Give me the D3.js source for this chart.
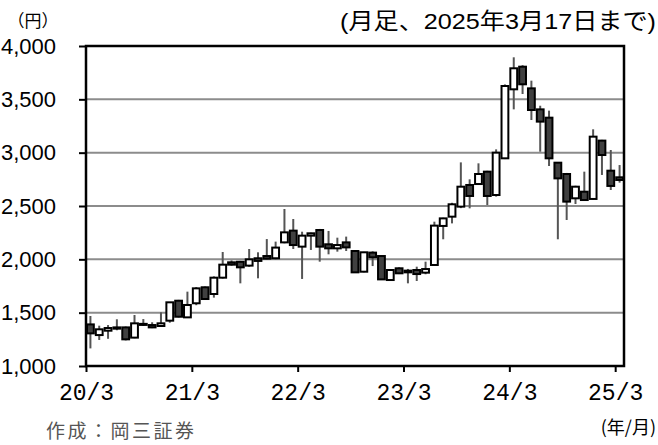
<!DOCTYPE html>
<html><head><meta charset="utf-8">
<script src="https://cdn.jsdelivr.net/npm/d3@7/dist/d3.min.js"></script>
<style>body{margin:0;background:#fff}svg{display:block}</style>
</head><body>
<script>
const months = [
 "2020/03","2020/04","2020/05","2020/06","2020/07","2020/08","2020/09","2020/10","2020/11","2020/12",
 "2021/01","2021/02","2021/03","2021/04","2021/05","2021/06","2021/07","2021/08","2021/09","2021/10","2021/11","2021/12",
 "2022/01","2022/02","2022/03","2022/04","2022/05","2022/06","2022/07","2022/08","2022/09","2022/10","2022/11","2022/12",
 "2023/01","2023/02","2023/03","2023/04","2023/05","2023/06","2023/07","2023/08","2023/09","2023/10","2023/11","2023/12",
 "2024/01","2024/02","2024/03","2024/04","2024/05","2024/06","2024/07","2024/08","2024/09","2024/10","2024/11","2024/12",
 "2025/01","2025/02","2025/03"];
const openP  = [1390,1290,1331,1362,1362,1266,1385,1384,1375,1425,1612,1456,1588,1738,1675,1828,1972,1977,1941,2010,2031,2010,
                2159,2269,2119,2222,2275,2141,2103,2159,2078,1884,2063,2031,1806,1916,1894,1900,1875,1947,2313,2400,2494,2697,2706,2822,
                2603,2947,3594,3806,3603,3406,3328,2906,2800,2572,2634,2566,3113,2831,2769];
const highP  = [1469,1378,1384,1438,1370,1478,1440,1410,1503,1600,1620,1697,1740,1745,1840,2069,1990,1985,2097,2066,2190,2166,
                2472,2378,2259,2250,2285,2266,2203,2213,2085,2070,2075,2035,1900,1925,1910,1931,1978,2353,2390,2530,2909,2750,2900,2830,
                3031,3640,3894,3820,3675,3440,3394,2910,2810,2690,2822,3219,3120,3025,2884];
const lowP   = [1165,1244,1255,1335,1240,1260,1375,1355,1370,1406,1455,1450,1570,1620,1641,1820,1940,1775,1930,1822,2000,2000,
                2150,2097,1816,2088,1978,2047,2072,2078,1878,1878,1937,1806,1800,1862,1775,1797,1860,1940,2188,2337,2480,2478,2700,2509,
                2588,2940,3406,3550,3306,3009,2875,2188,2369,2519,2550,2560,2791,2650,2719];
const closeP = [1306,1344,1356,1350,1250,1400,1395,1362,1400,1597,1462,1572,1728,1628,1828,1950,1950,1925,2000,1985,2006,2110,
                2253,2134,2222,2244,2119,2103,2134,2112,1878,2066,2019,1812,1900,1869,1878,1862,1909,2316,2384,2516,2681,2594,2800,2594,
                3000,3625,3791,3641,3400,3291,2947,2759,2541,2681,2556,3150,2978,2688,2744];
const xTickIdx = [0,12,24,36,48,60];
const xTickLabels = ["20/3","21/3","22/3","23/3","24/3","25/3"];
const yTicks = [1000,1500,2000,2500,3000,3500,4000];

const W=658,H=445;
const svg=d3.select("body").append("svg").attr("width",W).attr("height",H);
const x=d3.scaleLinear().domain([0,months.length]).range([86,624]);
const y=d3.scaleLinear().domain([1000,4000]).range([366,46]);
const bw = x(1)-x(0);

// gridlines
svg.append("g").selectAll("line").data(yTicks.filter(v=>v>1000&&v<4000)).join("line")
  .attr("x1",x(0)).attr("x2",x(months.length)).attr("y1",d=>y(d)).attr("y2",d=>y(d))
  .attr("stroke","#8c8c8c").attr("stroke-width",2);

// axes
const yAxis = svg.append("g").attr("transform",`translate(${x(0)},0)`)
  .call(d3.axisLeft(y).tickValues(yTicks).tickFormat(d3.format(",")).tickSize(7).tickPadding(23));
yAxis.select(".domain").remove();
yAxis.selectAll("line").attr("stroke","#000").attr("stroke-width",2);
yAxis.selectAll("text").attr("font-family","'Liberation Sans',Arial,sans-serif").attr("font-size",22).attr("fill","#000");

const xAxis = svg.append("g").attr("transform",`translate(0,${y(1000)})`)
  .call(d3.axisBottom(x).tickValues(xTickIdx).tickFormat((d,i)=>xTickLabels[i]).tickSize(6).tickPadding(12));
xAxis.select(".domain").remove();
xAxis.selectAll("line").attr("stroke","#000").attr("stroke-width",2);
xAxis.selectAll("text").attr("font-family","'Liberation Mono',monospace").attr("font-size",23).attr("fill","#000");

// candles
const idx = d3.range(months.length);
svg.append("g").selectAll("line").data(idx).join("line")
  .attr("x1",i=>x(i)+bw/2).attr("x2",i=>x(i)+bw/2)
  .attr("y1",i=>y(highP[i])).attr("y2",i=>y(lowP[i]))
  .attr("stroke","#555").attr("stroke-width",2);
svg.append("g").selectAll("rect").data(idx).join("rect")
  .attr("x",i=>x(i)+1).attr("width",bw-2)
  .attr("y",i=>y(Math.max(openP[i],closeP[i])))
  .attr("height",i=>Math.max(1,Math.abs(y(openP[i])-y(closeP[i]))))
  .attr("fill",i=>closeP[i]<openP[i]?"#404040":"#fff")
  .attr("stroke","#000").attr("stroke-width",2);

// frame
svg.append("rect").attr("x",x(0)).attr("y",y(4000)).attr("width",x(months.length)-x(0)).attr("height",y(1000)-y(4000))
  .attr("fill","none").attr("stroke","#000").attr("stroke-width",2.5);

// texts
svg.append("text").attr("x",33).attr("y",27).attr("text-anchor","middle")
  .attr("font-family","'Noto Sans CJK JP',sans-serif").attr("font-size",17).text("（円）");
svg.append("text").attr("x",656).attr("y",29).attr("text-anchor","end")
  .attr("font-family","'Liberation Sans','Noto Sans CJK JP',sans-serif").attr("font-size",22.5)
  .attr("textLength",316).attr("lengthAdjust","spacingAndGlyphs").text("(月足、2025年3月17日まで)");
svg.append("text").attr("x",656).attr("y",434).attr("text-anchor","end")
  .attr("font-family","'Noto Sans CJK JP',sans-serif").attr("font-size",18).text("(年/月)");
svg.append("text").attr("x",46).attr("y",438)
  .attr("font-family","'Noto Sans CJK JP',sans-serif").attr("font-size",19).attr("fill","#555")
  .attr("textLength",148).attr("lengthAdjust","spacing").text("作成：岡三証券");
</script>
</body></html>
